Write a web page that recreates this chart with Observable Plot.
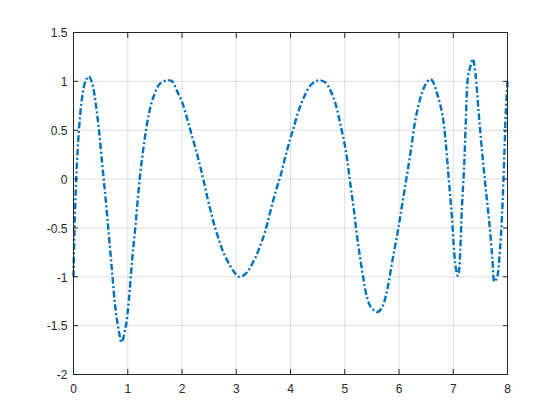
<!DOCTYPE html>
<html>
<head>
<meta charset="utf-8">
<script src="https://cdn.jsdelivr.net/npm/d3@7"></script>
<script src="https://cdn.jsdelivr.net/npm/@observablehq/plot@0.6"></script>
<style>
  html, body { margin: 0; padding: 0; background: #ffffff; }
  #chart { width: 560px; height: 420px; }
</style>
</head>
<body>
<div id="chart"></div>
<script>
// Curve samples
const xs = [0, 0.02, 0.05, 0.10, 0.16, 0.22, 0.28, 0.34, 0.41, 0.47, 0.53, 0.59, 0.65, 0.71, 0.77, 0.84, 0.885, 0.96, 1.02, 1.08, 1.14, 1.22, 1.30, 1.39, 1.48, 1.60, 1.75, 1.82, 1.91, 2.0, 2.10, 2.19, 2.28, 2.34, 2.40, 2.46, 2.53, 2.59, 2.68, 2.77, 2.87, 2.96, 3.05, 3.17, 3.33, 3.45, 3.54, 3.63, 3.72, 3.82, 3.91, 4.0, 4.06, 4.15, 4.25, 4.37, 4.52, 4.64, 4.74, 4.83, 4.92, 5.02, 5.11, 5.17, 5.23, 5.29, 5.35, 5.41, 5.48, 5.60, 5.69, 5.78, 5.87, 5.97, 6.03, 6.12, 6.21, 6.30, 6.40, 6.49, 6.57, 6.61, 6.70, 6.80, 6.86, 6.92, 6.98, 7.02, 7.06, 7.085, 7.11, 7.13, 7.16, 7.20, 7.23, 7.27, 7.31, 7.36, 7.41, 7.47, 7.53, 7.59, 7.66, 7.72, 7.76, 7.81, 7.86, 7.90, 7.94, 7.97, 8.0];
const ys = [-1.0, -0.49, 0.0, 0.5, 0.84, 1.0, 1.05, 0.99, 0.77, 0.5, 0.15, -0.19, -0.56, -0.94, -1.31, -1.57, -1.67, -1.52, -1.24, -0.83, -0.49, 0.0, 0.36, 0.67, 0.85, 0.98, 1.01, 1.0, 0.90, 0.79, 0.61, 0.43, 0.25, 0.12, -0.02, -0.17, -0.33, -0.46, -0.62, -0.76, -0.87, -0.95, -1.0, -0.97, -0.83, -0.67, -0.52, -0.33, -0.14, 0.04, 0.24, 0.42, 0.53, 0.70, 0.84, 0.96, 1.01, 0.99, 0.90, 0.77, 0.56, 0.29, -0.08, -0.32, -0.60, -0.83, -1.04, -1.21, -1.31, -1.36, -1.31, -1.14, -0.86, -0.56, -0.36, -0.05, 0.26, 0.60, 0.84, 0.97, 1.02, 1.01, 0.88, 0.66, 0.38, -0.02, -0.42, -0.77, -0.95, -0.99, -0.92, -0.73, -0.29, 0.12, 0.56, 1.04, 1.14, 1.23, 1.07, 0.67, 0.29, -0.05, -0.42, -0.80, -1.05, -1.0, -0.73, -0.36, 0.22, 0.70, 1.0];

const xTicks = [0, 1, 2, 3, 4, 5, 6, 7, 8];
const yTicks = [-2, -1.5, -1, -0.5, 0, 0.5, 1, 1.5];
const yTickLabels = ["-2", "-1.5", "-1", "-0.5", "0", "0.5", "1", "1.5"];

const data = xs.map((x, i) => ({x, y: ys[i]}));
const axisColor = "#262626";
const fmtY = d => yTickLabels[yTicks.indexOf(d)];

const chart = Plot.plot({
  width: 560,
  height: 420,
  marginLeft: 73,
  marginRight: 53,
  marginTop: 32,
  marginBottom: 46,
  style: {fontFamily: "'Liberation Sans', Arial, Helvetica, sans-serif", fontSize: "12px", color: axisColor, background: "#ffffff"},
  x: {domain: [0, 8]},
  y: {domain: [-2, 1.5]},
  marks: [
    Plot.gridX(xTicks, {stroke: "#262626", strokeOpacity: 0.15}),
    Plot.gridY(yTicks, {stroke: "#262626", strokeOpacity: 0.15}),
    Plot.line(data, {x: "x", y: "y", stroke: "#0072BD", strokeWidth: 2.4, strokeDasharray: "6.5,2.5,2,2.5", strokeLinecap: "butt", curve: "catmull-rom"}),
    Plot.frame({stroke: axisColor}),
    // inward tick marks on all four sides
    Plot.axisX(xTicks, {anchor: "bottom", tickSize: -5, tickFormat: () => "", stroke: axisColor, label: null}),
    Plot.axisX(xTicks, {anchor: "top", tickSize: -5, tickFormat: () => "", stroke: axisColor, label: null}),
    Plot.axisY(yTicks, {anchor: "left", tickSize: -5, tickFormat: () => "", stroke: axisColor, label: null}),
    Plot.axisY(yTicks, {anchor: "right", tickSize: -5, tickFormat: () => "", stroke: axisColor, label: null}),
    // tick labels
    Plot.axisX(xTicks, {anchor: "bottom", tickSize: 0, tickPadding: 10, tickFormat: d => String(d), fill: axisColor, label: null}),
    Plot.axisY(yTicks, {anchor: "left", tickSize: 0, tickPadding: 6, tickFormat: fmtY, fill: axisColor, label: null, dy: 1})
  ]
});
document.getElementById("chart").appendChild(chart);
</script>
</body>
</html>
